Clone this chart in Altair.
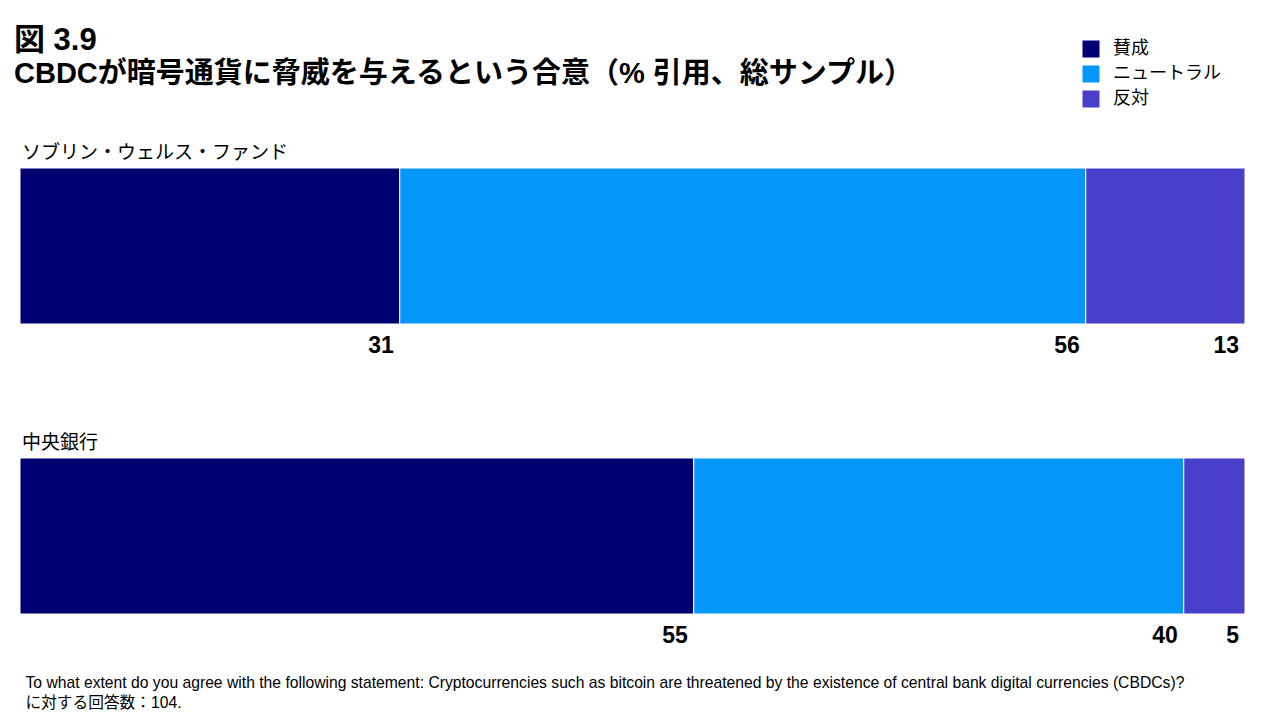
import altair as alt
import pandas as pd

rows = ["ソブリン・ウェルス・ファンド", "中央銀行"]
categories = ["賛成", "ニュートラル", "反対"]
swf_values = [31, 56, 13]
cb_values = [55, 40, 5]
colors = ["#000073", "#0596f9", "#4a3fc9"]

title_text = "図 3.9"
subtitle_text = "CBDCが暗号通貨に脅威を与えるという合意（% 引用、総サンプル）"
footnote = [
    "To what extent do you agree with the following statement: Cryptocurrencies such as bitcoin are threatened by the existence of central bank digital currencies (CBDCs)?",
    "に対する回答数：104.",
]

records = []
for r, vals in zip(rows, [swf_values, cb_values]):
    for i, (c, v) in enumerate(zip(categories, vals)):
        records.append({"row": r, "category": c, "value": v, "order": i})
df = pd.DataFrame(records)
row_df = pd.DataFrame({"row": rows})

FONT = "Liberation Sans, Noto Sans CJK JP, sans-serif"
CJK = "Noto Sans CJK JP, sans-serif"

x_scale = alt.Scale(domain=[0, 100], nice=False, zero=True)
y_scale = alt.Scale(domain=rows, paddingInner=0.462, paddingOuter=0)

base = alt.Chart(df).transform_stack(
    stack="value", groupby=["row"], as_=["x0", "x1"], sort=[alt.SortField("order")]
)

bars = base.mark_bar(stroke="white", strokeWidth=1).encode(
    x=alt.X(
        "x0:Q",
        scale=x_scale,
        axis=alt.Axis(
            domain=False, ticks=False, labels=False, grid=False,
            title=footnote, titleAnchor="start", titleAlign="left",
            titleBaseline="alphabetic", titleX=5, titleY=73,
            titleFontSize=15.7, titleFontWeight="normal", titleFont=FONT,
            titleColor="black", titleLineHeight=20,
        ),
    ),
    x2="x1:Q",
    y=alt.Y("row:N", scale=y_scale, axis=None),
    color=alt.Color(
        "category:N",
        scale=alt.Scale(domain=categories, range=colors),
        legend=alt.Legend(
            title=None, orient="none", legendX=1062, legendY=-128,
            symbolType="square", symbolSize=289, symbolStrokeWidth=0,
            labelFontSize=18, labelFont=CJK, labelColor="black",
            labelOffset=13, rowPadding=7,
        ),
    ),
)

values = base.mark_text(
    align="right", baseline="alphabetic", dx=-6, dy=107,
    fontSize=23, fontWeight="bold", font=FONT, color="black",
).encode(
    x=alt.X("x1:Q", scale=x_scale),
    y=alt.Y("row:N", scale=y_scale, axis=None),
    text="value:Q",
)

row_labels = alt.Chart(row_df).mark_text(
    align="left", baseline="alphabetic", dx=2, dy=-87,
    fontSize=19, font=CJK, color="black",
).encode(
    x=alt.value(0),
    y=alt.Y("row:N", scale=y_scale, axis=None),
    text="row:N",
)

chart = alt.layer(bars, values, row_labels).properties(
    width=1225,
    height=446,
    autosize=alt.AutoSizeParams(type="none"),
    padding={"left": 12, "top": 160, "right": 20, "bottom": 98},
    title=alt.TitleParams(
        text=title_text, subtitle=subtitle_text, anchor="start", frame="group",
        fontSize=31, subtitleFontSize=29, fontWeight="bold", subtitleFontWeight="bold",
        font=FONT, subtitleFont=FONT, color="black", subtitleColor="black",
        offset=-50, dx=-6, subtitlePadding=3,
    ),
).configure(background="white").configure_view(stroke=None, strokeWidth=0)

chart.save("out.html", embed_options={"renderer": "svg", "actions": False})
